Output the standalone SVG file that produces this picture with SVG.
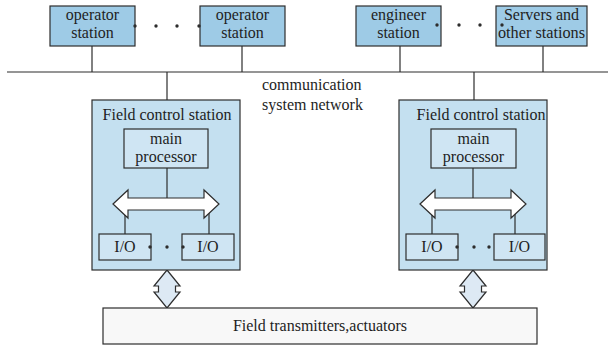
<svg xmlns="http://www.w3.org/2000/svg" width="608" height="349" viewBox="0 0 608 349" font-family="'Liberation Serif', 'Times New Roman', serif">
  <style>
    text { font-family: 'Liberation Serif', 'Times New Roman', serif; font-size: 16px; fill: #1e1e1e; text-anchor: middle; }
    .lbl { text-anchor: start; }
    .station { fill: #9ecbe6; stroke: #2d2d2d; stroke-width: 1.2; }
    .fcs { fill: #c4e0f0; stroke: #2d2d2d; stroke-width: 1.2; }
    .inner { fill: #cfe5f3; stroke: #2d2d2d; stroke-width: 1.2; }
    .field { fill: #f8f8f8; stroke: #2d2d2d; stroke-width: 1.2; }
    .wire { stroke: #2d2d2d; stroke-width: 1.2; fill: none; }
    .bus { fill: #ffffff; stroke: #2d2d2d; stroke-width: 1.2; }
    .link { fill: #dde9f4; stroke: #2d2d2d; stroke-width: 1.2; }
    .dot { fill: #2d2d2d; }
  </style>
  <defs>
    <!-- horizontal internal bus arrow, centred on 0,0 -->
    <path id="hbus" d="M-53,0 L-38,-14 L-38,-6 L38,-6 L38,-14 L53,0 L38,14 L38,6 L-38,6 L-38,14 Z"/>
    <!-- short vertical two-way link, tip to tip 0..38 -->
    <path id="vlink" d="M0,0 L13,16 L8.5,16 L8.5,22 L13,22 L0,38 L-13,22 L-8.5,22 L-8.5,16 L-13,16 Z"/>
  </defs>

  <!-- connectors -->
  <g id="connectors">
    <line class="wire" x1="7" y1="72" x2="608" y2="72"/>
    <line class="wire" x1="92" y1="46" x2="92" y2="72"/>
    <line class="wire" x1="242" y1="46" x2="242" y2="72"/>
    <line class="wire" x1="400" y1="46" x2="400" y2="72"/>
    <line class="wire" x1="543" y1="46" x2="543" y2="72"/>
    <line class="wire" x1="167" y1="72" x2="167" y2="100"/>
    <line class="wire" x1="474" y1="72" x2="474" y2="100"/>
    <use href="#vlink" class="link" x="167" y="270"/>
    <use href="#vlink" class="link" x="473" y="270"/>
  </g>

  <!-- operator / engineering stations -->
  <g id="operator1">
    <rect class="station" x="50" y="6" width="85" height="40"/>
    <text x="92.5" y="20">operator</text>
    <text x="92.5" y="38">station</text>
  </g>
  <g id="operator2">
    <rect class="station" x="200" y="6" width="85" height="40"/>
    <text x="242.5" y="20">operator</text>
    <text x="242.5" y="38">station</text>
  </g>
  <g id="operator-dots">
    <circle class="dot" cx="135" cy="26" r="1.7"/>
    <circle class="dot" cx="156" cy="26" r="1.7"/>
    <circle class="dot" cx="177" cy="26" r="1.7"/>
    <circle class="dot" cx="199" cy="26" r="1.7"/>
  </g>
  <g id="engineer">
    <rect class="station" x="356" y="6" width="85" height="40"/>
    <text x="398.5" y="20">engineer</text>
    <text x="398.5" y="38">station</text>
  </g>
  <g id="servers">
    <rect class="station" x="496" y="6" width="91" height="40"/>
    <text x="541.5" y="20">Servers and</text>
    <text x="541.5" y="38" textLength="87" lengthAdjust="spacingAndGlyphs">other stations</text>
  </g>
  <g id="engineer-dots">
    <circle class="dot" cx="437" cy="25" r="1.7"/>
    <circle class="dot" cx="459" cy="25" r="1.7"/>
    <circle class="dot" cx="480" cy="25" r="1.7"/>
    <circle class="dot" cx="502" cy="25" r="1.7"/>
  </g>

  <g id="network-label">
    <text class="lbl" x="262" y="90">communication</text>
    <text class="lbl" x="262" y="110">system network</text>
  </g>

  <!-- field control station, left -->
  <g id="fcs-left">
    <rect class="fcs" x="92" y="100" width="148" height="170"/>
    <text x="167" y="120">Field control station</text>
    <rect class="inner" x="124" y="129" width="84" height="39"/>
    <text x="166" y="144">main</text>
    <text x="166" y="162">processor</text>
    <line class="wire" x1="167" y1="168" x2="167" y2="198"/>
    <line class="wire" x1="125" y1="210" x2="125" y2="234"/>
    <line class="wire" x1="209" y1="210" x2="209" y2="234"/>
    <use href="#hbus" class="bus" x="166" y="204"/>
    <rect class="inner" x="99" y="234" width="52" height="26"/>
    <text x="125" y="252">I/O</text>
    <rect class="inner" x="182" y="234" width="52" height="26"/>
    <text x="208" y="252">I/O</text>
    <circle class="dot" cx="150" cy="247" r="1.7"/>
    <circle class="dot" cx="167" cy="247" r="1.7"/>
    <circle class="dot" cx="183" cy="247" r="1.7"/>
  </g>

  <!-- field control station, right -->
  <g id="fcs-right">
    <rect class="fcs" x="399" y="100" width="148" height="170"/>
    <text x="481" y="120">Field control station</text>
    <rect class="inner" x="431" y="129" width="85" height="39"/>
    <text x="473.5" y="144">main</text>
    <text x="473.5" y="162">processor</text>
    <line class="wire" x1="473" y1="168" x2="473" y2="198"/>
    <line class="wire" x1="432" y1="210" x2="432" y2="234"/>
    <line class="wire" x1="515" y1="210" x2="515" y2="234"/>
    <use href="#hbus" class="bus" x="473" y="204"/>
    <rect class="inner" x="406" y="234" width="52" height="26"/>
    <text x="432" y="252">I/O</text>
    <rect class="inner" x="494" y="234" width="51" height="26"/>
    <text x="519.5" y="252">I/O</text>
    <circle class="dot" cx="457" cy="247" r="1.7"/>
    <circle class="dot" cx="474" cy="247" r="1.7"/>
    <circle class="dot" cx="489" cy="247" r="1.7"/>
  </g>

  <!-- field devices -->
  <g id="field">
    <rect class="field" x="103" y="308" width="434" height="36"/>
    <text x="320" y="331">Field transmitters,actuators</text>
  </g>
</svg>
